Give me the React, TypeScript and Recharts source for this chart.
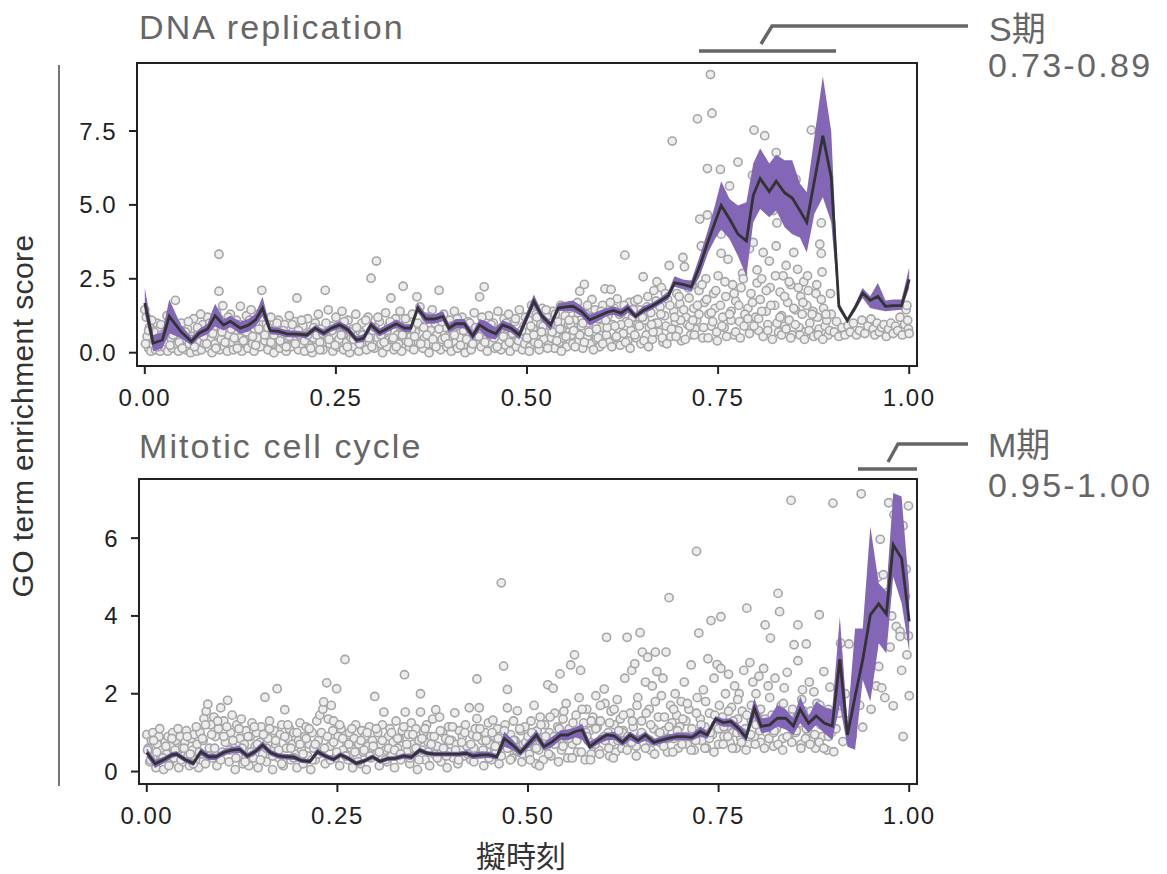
import React from "react";
import {
  ComposedChart,
  Scatter,
  Area,
  Line,
  XAxis,
  YAxis,
  CartesianGrid,
  ReferenceArea,
} from "recharts";

// ---- binned mean + interval, "DNA replication"
const dnaX = [0, 0.011, 0.023, 0.032, 0.047, 0.061, 0.071, 0.082, 0.092, 0.103, 0.112, 0.125, 0.136, 0.145, 0.154, 0.164, 0.175, 0.186, 0.199, 0.212, 0.223, 0.234, 0.244, 0.255, 0.266, 0.277, 0.286, 0.296, 0.307, 0.318, 0.329, 0.34, 0.348, 0.357, 0.368, 0.379, 0.39, 0.398, 0.407, 0.418, 0.429, 0.438, 0.448, 0.459, 0.468, 0.479, 0.49, 0.509, 0.52, 0.531, 0.541, 0.551, 0.56, 0.571, 0.582, 0.593, 0.604, 0.613, 0.623, 0.632, 0.642, 0.652, 0.663, 0.674, 0.685, 0.693, 0.704, 0.715, 0.726, 0.737, 0.746, 0.754, 0.765, 0.776, 0.787, 0.796, 0.805, 0.817, 0.826, 0.837, 0.847, 0.857, 0.866, 0.876, 0.887, 0.898, 0.908, 0.919, 0.929, 0.939, 0.949, 0.959, 0.969, 0.979, 0.99, 1.0];
const dnaMean = [1.68, 0.32, 0.43, 1.23, 0.72, 0.38, 0.66, 0.8, 1.25, 0.94, 1.06, 0.83, 0.94, 1.11, 1.51, 0.75, 0.72, 0.64, 0.63, 0.6, 0.83, 0.66, 0.83, 0.94, 0.77, 0.43, 0.49, 0.94, 0.68, 0.83, 0.98, 0.83, 0.83, 1.51, 1.14, 1.14, 1.23, 0.83, 0.98, 0.98, 0.57, 0.94, 0.77, 0.64, 0.94, 0.83, 0.6, 1.74, 1.23, 0.94, 1.51, 1.55, 1.57, 1.4, 1.11, 1.23, 1.36, 1.43, 1.34, 1.51, 1.23, 1.43, 1.57, 1.74, 1.93, 2.36, 2.31, 2.23, 2.93, 3.78, 4.41, 4.98, 4.52, 4.01, 3.78, 5.32, 5.89, 5.45, 5.8, 5.41, 5.23, 4.81, 4.41, 5.82, 7.34, 5.94, 1.57, 1.09, 1.51, 2.02, 1.77, 1.91, 1.57, 1.59, 1.59, 2.48];
const dnaLow = [1.34, 0.05, 0.15, 0.66, 0.5, 0.25, 0.5, 0.62, 0.89, 0.75, 0.86, 0.64, 0.72, 0.9, 1.23, 0.62, 0.6, 0.52, 0.52, 0.5, 0.72, 0.55, 0.72, 0.82, 0.64, 0.32, 0.36, 0.8, 0.55, 0.7, 0.84, 0.7, 0.7, 1.35, 0.98, 0.98, 1.06, 0.68, 0.82, 0.82, 0.42, 0.75, 0.5, 0.45, 0.78, 0.68, 0.45, 1.57, 1.06, 0.75, 1.4, 1.42, 1.4, 1.23, 0.91, 1.06, 1.23, 1.28, 1.2, 1.34, 1.14, 1.32, 1.45, 1.63, 1.8, 2.23, 2.15, 2.08, 2.59, 3.39, 3.85, 4.18, 3.85, 3.27, 2.59, 4.41, 4.86, 4.58, 4.81, 4.24, 4.01, 3.9, 3.39, 4.7, 5.26, 4.41, 1.45, 1.02, 1.4, 1.85, 1.51, 1.45, 1.4, 1.43, 1.45, 2.19];
const dnaHigh = [2.19, 0.6, 0.7, 1.8, 0.95, 0.52, 0.8, 0.98, 1.66, 1.13, 1.25, 1.05, 1.15, 1.32, 1.89, 0.88, 0.84, 0.76, 0.74, 0.7, 0.94, 0.78, 0.94, 1.06, 0.9, 0.55, 0.62, 1.08, 0.82, 0.96, 1.12, 0.96, 0.96, 1.68, 1.3, 1.3, 1.4, 0.98, 1.14, 1.14, 0.72, 1.14, 1.05, 0.84, 1.1, 0.98, 0.76, 1.97, 1.34, 1.06, 1.68, 1.72, 1.77, 1.59, 1.28, 1.4, 1.51, 1.57, 1.48, 1.66, 1.34, 1.57, 1.68, 1.85, 2.08, 2.59, 2.48, 2.43, 3.27, 4.18, 5.0, 5.8, 5.2, 4.98, 5.09, 6.4, 6.91, 6.4, 6.7, 6.51, 6.51, 5.72, 5.43, 7.3, 9.35, 7.48, 1.7, 1.17, 1.63, 2.19, 1.91, 2.36, 1.77, 1.8, 1.8, 2.88];

// ---- binned mean + interval, "Mitotic cell cycle"
const cycX = [0, 0.011, 0.022, 0.033, 0.039, 0.05, 0.061, 0.071, 0.081, 0.091, 0.101, 0.111, 0.122, 0.132, 0.142, 0.152, 0.162, 0.173, 0.183, 0.193, 0.203, 0.214, 0.224, 0.234, 0.245, 0.254, 0.264, 0.275, 0.286, 0.296, 0.306, 0.316, 0.326, 0.337, 0.347, 0.358, 0.368, 0.378, 0.389, 0.399, 0.409, 0.419, 0.428, 0.439, 0.449, 0.459, 0.469, 0.48, 0.49, 0.511, 0.521, 0.532, 0.543, 0.552, 0.562, 0.571, 0.581, 0.592, 0.603, 0.613, 0.624, 0.634, 0.644, 0.654, 0.665, 0.675, 0.685, 0.695, 0.705, 0.715, 0.726, 0.735, 0.746, 0.756, 0.766, 0.776, 0.786, 0.797, 0.806, 0.817, 0.827, 0.838, 0.848, 0.857, 0.868, 0.878, 0.889, 0.899, 0.909, 0.919, 0.929, 0.939, 0.949, 0.96, 0.97, 0.979, 0.99, 1.0];
const cycMean = [0.49, 0.2, 0.3, 0.43, 0.45, 0.31, 0.21, 0.51, 0.38, 0.38, 0.49, 0.55, 0.57, 0.4, 0.51, 0.68, 0.49, 0.4, 0.38, 0.37, 0.28, 0.26, 0.51, 0.4, 0.31, 0.43, 0.34, 0.21, 0.28, 0.38, 0.26, 0.33, 0.34, 0.4, 0.37, 0.55, 0.47, 0.45, 0.45, 0.45, 0.45, 0.47, 0.4, 0.43, 0.43, 0.38, 0.85, 0.68, 0.49, 0.94, 0.64, 0.77, 0.94, 0.94, 1.03, 1.07, 0.64, 0.8, 0.94, 0.92, 0.75, 0.94, 0.8, 0.94, 0.75, 0.81, 0.86, 0.9, 0.9, 0.88, 1.03, 0.94, 1.35, 1.26, 1.29, 1.11, 0.88, 1.63, 1.16, 1.2, 1.37, 1.37, 1.17, 1.6, 1.24, 1.43, 1.24, 1.17, 2.89, 0.94, 1.93, 2.87, 4.03, 4.31, 4.05, 5.83, 5.48, 3.86];
const cycLow = [0.38, 0.09, 0.22, 0.35, 0.38, 0.24, 0.14, 0.42, 0.3, 0.3, 0.41, 0.47, 0.48, 0.32, 0.43, 0.59, 0.41, 0.33, 0.31, 0.3, 0.22, 0.2, 0.43, 0.33, 0.25, 0.36, 0.28, 0.15, 0.22, 0.32, 0.2, 0.27, 0.28, 0.33, 0.3, 0.48, 0.41, 0.39, 0.39, 0.39, 0.39, 0.4, 0.32, 0.34, 0.35, 0.31, 0.64, 0.55, 0.4, 0.8, 0.55, 0.64, 0.82, 0.8, 0.88, 0.82, 0.56, 0.7, 0.8, 0.82, 0.66, 0.81, 0.7, 0.8, 0.66, 0.72, 0.77, 0.81, 0.81, 0.79, 0.9, 0.84, 1.24, 1.15, 1.15, 1.0, 0.77, 1.41, 0.99, 1.02, 1.16, 1.08, 0.94, 1.24, 1.0, 1.2, 0.98, 0.81, 1.71, 0.64, 0.56, 2.36, 1.8, 3.3, 3.04, 5.01, 4.33, 3.08];
const cycHigh = [0.6, 0.3, 0.38, 0.5, 0.52, 0.38, 0.28, 0.6, 0.46, 0.46, 0.57, 0.63, 0.66, 0.48, 0.59, 0.77, 0.57, 0.47, 0.45, 0.44, 0.34, 0.32, 0.59, 0.47, 0.38, 0.5, 0.4, 0.27, 0.34, 0.44, 0.32, 0.39, 0.4, 0.47, 0.44, 0.62, 0.53, 0.51, 0.51, 0.51, 0.51, 0.54, 0.48, 0.52, 0.51, 0.45, 1.02, 0.82, 0.58, 1.07, 0.74, 0.9, 1.06, 1.08, 1.14, 1.23, 0.77, 0.9, 1.0, 1.02, 0.84, 1.03, 0.9, 1.03, 0.84, 0.9, 0.95, 0.99, 0.99, 0.97, 1.16, 1.04, 1.43, 1.36, 1.37, 1.22, 1.03, 1.89, 1.37, 1.4, 1.71, 1.6, 1.37, 1.93, 1.42, 1.8, 1.65, 1.59, 3.98, 1.24, 3.68, 3.68, 6.3, 4.84, 4.63, 7.16, 7.07, 4.67];

// ---- per-cell scores (pseudotime, score)
const dnaCells: [number, number][] = [
  [0.0, 1.45], [0.002, 1.2], [0.003, 0.55], [0.005, 0.15], [0.006, 0.85], [0.008, 0.05], [0.01, 0.3], [0.012, 0.7], [0.014, 0.1], [0.016, 1.0],
  [0.018, 0.45], [0.02, 0.05], [0.022, 0.6], [0.024, 0.2], [0.026, 0.9], [0.028, 0.35], [0.03, 0.05], [0.032, 1.1], [0.034, 0.5], [0.036, 0.15],
  [0.038, 0.75], [0.04, 1.77], [0.042, 0.3], [0.044, 0.05], [0.046, 0.6], [0.048, 1.0], [0.05, 0.2], [0.052, 0.45], [0.054, 0.1], [0.056, 0.8],
  [0.058, 0.3], [0.06, 0.0], [0.062, 0.55], [0.064, 1.15], [0.066, 0.25], [0.068, 0.05], [0.07, 0.7], [0.072, 0.4], [0.074, 0.1], [0.076, 0.95],
  [0.078, 0.3], [0.08, 0.6], [0.082, 1.2], [0.084, 0.15], [0.086, 0.45], [0.088, 0.0], [0.09, 0.85], [0.092, 0.3], [0.094, 1.35], [0.096, 0.6],
  [0.097, 2.08], [0.097, 3.33], [0.098, 0.1], [0.1, 0.45], [0.102, 1.59], [0.104, 0.2], [0.106, 0.9], [0.108, 0.05], [0.11, 0.6], [0.112, 1.3],
  [0.114, 0.35], [0.116, 0.1], [0.118, 0.75], [0.12, 1.1], [0.122, 0.25], [0.124, 0.5], [0.125, 1.57], [0.127, 0.05], [0.129, 0.85], [0.131, 0.35],
  [0.133, 1.25], [0.135, 0.15], [0.137, 0.6], [0.139, 1.45], [0.141, 0.3], [0.143, 0.05], [0.145, 0.95], [0.147, 0.5], [0.149, 1.3], [0.151, 0.2],
  [0.153, 2.11], [0.155, 0.7], [0.157, 0.4], [0.159, 1.0], [0.161, 0.1], [0.163, 0.55], [0.165, 1.2], [0.167, 0.3], [0.169, 0.0], [0.171, 0.8],
  [0.173, 0.45], [0.175, 1.1], [0.177, 0.15], [0.179, 0.6], [0.181, 0.3], [0.183, 0.95], [0.185, 0.05], [0.187, 0.5], [0.189, 1.25], [0.191, 0.2],
  [0.193, 0.7], [0.195, 0.4], [0.197, 1.05], [0.199, 1.85], [0.201, 0.1], [0.203, 0.6], [0.205, 0.3], [0.207, 0.9], [0.209, 0.05], [0.211, 0.45],
  [0.213, 1.15], [0.215, 0.25], [0.217, 0.7], [0.219, 0.0], [0.221, 0.5], [0.223, 1.0], [0.225, 0.2], [0.227, 1.3], [0.229, 0.35], [0.231, 0.8],
  [0.233, 0.1], [0.236, 2.11], [0.238, 0.55], [0.24, 1.45], [0.242, 0.3], [0.244, 0.9], [0.246, 0.05], [0.248, 0.6], [0.25, 1.2], [0.252, 0.2],
  [0.254, 0.45], [0.256, 0.85], [0.258, 1.4], [0.26, 0.1], [0.262, 0.65], [0.264, 0.35], [0.266, 1.1], [0.268, 0.0], [0.27, 0.5], [0.272, 0.8],
  [0.274, 0.2], [0.276, 1.3], [0.278, 0.4], [0.28, 0.05], [0.282, 0.7], [0.284, 1.0], [0.286, 0.25], [0.288, 0.55], [0.29, 0.1], [0.292, 1.2],
  [0.294, 0.35], [0.296, 2.52], [0.298, 0.75], [0.3, 0.15], [0.303, 3.1], [0.305, 0.5], [0.307, 1.05], [0.309, 0.3], [0.311, 0.0], [0.313, 0.65],
  [0.315, 1.35], [0.317, 0.2], [0.319, 0.9], [0.322, 1.85], [0.324, 0.45], [0.326, 0.1], [0.328, 1.15], [0.33, 0.6], [0.332, 0.3], [0.334, 1.4],
  [0.336, 0.05], [0.338, 2.25], [0.34, 0.8], [0.342, 0.4], [0.344, 1.0], [0.346, 0.2], [0.348, 0.55], [0.35, 1.3], [0.352, 0.1], [0.354, 0.7],
  [0.356, 1.89], [0.358, 0.35], [0.36, 1.55], [0.362, 0.9], [0.364, 0.15], [0.366, 0.5], [0.368, 1.2], [0.37, 0.3], [0.372, 0.0], [0.374, 0.75],
  [0.376, 1.45], [0.378, 0.25], [0.38, 1.0], [0.382, 0.6], [0.385, 2.11], [0.387, 0.1], [0.389, 0.45], [0.391, 1.3], [0.393, 0.85], [0.395, 0.2],
  [0.397, 0.55], [0.399, 1.1], [0.401, 0.05], [0.403, 0.7], [0.405, 1.4], [0.407, 0.35], [0.409, 0.15], [0.411, 0.9], [0.413, 0.5], [0.415, 1.2],
  [0.417, 0.25], [0.419, 0.0], [0.421, 0.65], [0.423, 1.05], [0.425, 0.4], [0.427, 0.1], [0.429, 0.8], [0.431, 1.35], [0.433, 0.3], [0.435, 0.55],
  [0.438, 1.89], [0.44, 0.2], [0.442, 0.95], [0.444, 2.23], [0.446, 0.45], [0.448, 0.05], [0.45, 1.25], [0.452, 0.6], [0.454, 0.3], [0.456, 1.0],
  [0.458, 0.15], [0.46, 0.7], [0.462, 1.4], [0.464, 0.4], [0.466, 0.1], [0.468, 0.85], [0.47, 1.15], [0.472, 0.25], [0.474, 0.55], [0.476, 1.3],
  [0.478, 0.05], [0.48, 0.75], [0.482, 0.35], [0.484, 1.05], [0.486, 0.2], [0.488, 0.6], [0.49, 1.45], [0.492, 0.45], [0.494, 0.1], [0.496, 0.9],
  [0.498, 1.2],
  [0.001, 0.3], [0.005, 0.75], [0.009, 1.1], [0.013, 0.4], [0.017, 0.2], [0.021, 0.95], [0.025, 0.55], [0.029, 1.25], [0.033, 0.25], [0.037, 0.6],
  [0.041, 0.95], [0.045, 0.35], [0.049, 0.15], [0.053, 0.7], [0.057, 1.05], [0.061, 0.45], [0.065, 0.2], [0.069, 0.85], [0.073, 1.3], [0.077, 0.55],
  [0.081, 0.3], [0.085, 1.0], [0.089, 0.65], [0.093, 0.15], [0.097, 1.15], [0.101, 0.7], [0.105, 0.35], [0.109, 1.2], [0.113, 0.8], [0.117, 0.5],
  [0.121, 0.15], [0.125, 0.95], [0.129, 0.4], [0.133, 0.7], [0.137, 1.1], [0.141, 0.55], [0.145, 0.25], [0.149, 0.8], [0.153, 1.2], [0.157, 0.6],
  [0.161, 0.85], [0.165, 0.35], [0.169, 0.6], [0.173, 1.0], [0.177, 0.4], [0.181, 0.75], [0.185, 0.2], [0.189, 0.55], [0.193, 0.95], [0.197, 0.3],
  [0.201, 0.75], [0.205, 1.1], [0.209, 0.4], [0.213, 0.6], [0.217, 0.15], [0.221, 0.85], [0.225, 0.6], [0.229, 0.1], [0.233, 0.65], [0.237, 1.0],
  [0.241, 0.45], [0.245, 0.75], [0.249, 0.25], [0.253, 0.9], [0.257, 0.6], [0.261, 1.05], [0.265, 0.2], [0.269, 0.7], [0.273, 0.45], [0.277, 0.85],
  [0.281, 0.3], [0.285, 0.6], [0.289, 1.1], [0.293, 0.5], [0.297, 0.2], [0.301, 0.85], [0.305, 1.2], [0.309, 0.6], [0.313, 0.35], [0.317, 0.75],
  [0.321, 1.05], [0.325, 0.5], [0.329, 0.2], [0.333, 0.9], [0.337, 0.6], [0.341, 1.15], [0.345, 0.35], [0.349, 0.8], [0.353, 0.55], [0.357, 1.0],
  [0.361, 0.3], [0.365, 0.85], [0.369, 0.6], [0.373, 1.2], [0.377, 0.45], [0.381, 0.2], [0.385, 0.8], [0.389, 1.05], [0.393, 0.5], [0.397, 0.3],
  [0.401, 0.9], [0.405, 0.6], [0.409, 1.15], [0.413, 0.25], [0.417, 0.75], [0.421, 0.45], [0.425, 1.0], [0.429, 0.3], [0.433, 0.85], [0.437, 0.55],
  [0.441, 1.2], [0.445, 0.35], [0.449, 0.7], [0.453, 0.95], [0.457, 0.5], [0.461, 0.2], [0.465, 0.8], [0.469, 0.55], [0.473, 1.0], [0.477, 0.35],
  [0.481, 0.65], [0.485, 1.15], [0.489, 0.4], [0.493, 0.75], [0.497, 0.3],
  [0.5, 0.5], [0.502, 1.1], [0.504, 0.2], [0.506, 1.6], [0.508, 0.8], [0.51, 0.35], [0.512, 1.3], [0.514, 0.6], [0.516, 0.1], [0.518, 0.95],
  [0.52, 1.5], [0.522, 0.45], [0.524, 0.75], [0.526, 1.2], [0.528, 0.25], [0.53, 0.9], [0.532, 0.5], [0.534, 1.4], [0.536, 0.15], [0.538, 0.65],
  [0.54, 1.05], [0.542, 0.35], [0.544, 1.6], [0.546, 0.8], [0.548, 0.5], [0.55, 1.25], [0.552, 0.2], [0.554, 0.95], [0.556, 1.5], [0.558, 0.6],
  [0.56, 0.3], [0.562, 1.1], [0.564, 0.75], [0.566, 1.7], [0.568, 0.4], [0.569, 2.08], [0.571, 0.9], [0.573, 0.15], [0.575, 2.31], [0.577, 1.3],
  [0.579, 0.55], [0.581, 1.0], [0.583, 0.3], [0.585, 1.8], [0.587, 0.7], [0.589, 1.45], [0.591, 0.45], [0.593, 1.15], [0.595, 0.2], [0.597, 0.85],
  [0.599, 1.6], [0.602, 2.16], [0.604, 0.6], [0.606, 1.25], [0.608, 0.35], [0.61, 2.14], [0.612, 0.95], [0.614, 1.5], [0.616, 0.5], [0.618, 1.82],
  [0.62, 0.8], [0.622, 0.25], [0.624, 1.35], [0.626, 0.65], [0.628, 3.3], [0.63, 1.05], [0.632, 0.4], [0.634, 1.7], [0.636, 0.75], [0.638, 1.2],
  [0.641, 1.74], [0.643, 0.5], [0.645, 0.95], [0.647, 1.45], [0.649, 0.3], [0.652, 2.57], [0.654, 1.1], [0.656, 0.6], [0.658, 1.9], [0.66, 0.85],
  [0.662, 1.35], [0.664, 0.45], [0.666, 2.1], [0.668, 1.0], [0.67, 2.4], [0.672, 0.7], [0.674, 1.55], [0.676, 2.2], [0.678, 0.35], [0.68, 1.25],
  [0.682, 0.9], [0.684, 1.8], [0.686, 2.95], [0.688, 0.55], [0.69, 7.16], [0.692, 1.4], [0.694, 1.05], [0.696, 2.0], [0.698, 0.75], [0.7, 1.65],
  [0.702, 0.4], [0.704, 3.22], [0.706, 2.91], [0.708, 1.2], [0.71, 0.95], [0.712, 1.85], [0.714, 0.6], [0.716, 2.3], [0.718, 1.5], [0.72, 0.8],
  [0.722, 1.1], [0.723, 7.91], [0.725, 2.1], [0.726, 4.52], [0.728, 3.61], [0.73, 0.5], [0.732, 1.7], [0.734, 2.5], [0.736, 6.23], [0.736, 4.66],
  [0.738, 1.3], [0.74, 9.41], [0.741, 0.9], [0.742, 8.1], [0.744, 2.0], [0.746, 1.5], [0.748, 0.7], [0.75, 2.6], [0.753, 6.2], [0.754, 4.01],
  [0.754, 3.36], [0.756, 1.2], [0.758, 0.85], [0.76, 1.9], [0.763, 3.16], [0.765, 5.64], [0.767, 1.4], [0.769, 2.3], [0.771, 0.6], [0.773, 1.75],
  [0.776, 6.45], [0.778, 1.05], [0.78, 2.2], [0.782, 2.68], [0.784, 0.9], [0.787, 4.66], [0.789, 1.5], [0.791, 3.52], [0.793, 2.0], [0.795, 6.0],
  [0.796, 3.73], [0.797, 7.53], [0.799, 1.2], [0.801, 2.36], [0.803, 0.75], [0.805, 1.8], [0.807, 2.5], [0.809, 3.39], [0.811, 7.34], [0.813, 1.4],
  [0.815, 0.95], [0.817, 3.1], [0.818, 2.2], [0.82, 5.15], [0.822, 4.81], [0.824, 1.6], [0.826, 6.77], [0.826, 3.61], [0.827, 4.39], [0.829, 0.7],
  [0.831, 2.05], [0.833, 1.25], [0.835, 2.6], [0.837, 0.9], [0.839, 6.11], [0.839, 2.95], [0.841, 1.7], [0.843, 1.1], [0.845, 2.3], [0.847, 0.6],
  [0.849, 3.39], [0.851, 1.45], [0.852, 5.86], [0.853, 4.32], [0.854, 2.82], [0.856, 0.85], [0.858, 1.9], [0.86, 1.3], [0.862, 2.4], [0.864, 0.7],
  [0.866, 1.6], [0.868, 2.1], [0.87, 1.0], [0.872, 7.53], [0.874, 1.4], [0.876, 0.6], [0.878, 2.0], [0.88, 1.2], [0.882, 0.8], [0.883, 5.86],
  [0.883, 3.67], [0.885, 4.39], [0.885, 3.36], [0.886, 2.73], [0.888, 1.5], [0.89, 0.9], [0.892, 1.1], [0.894, 0.6], [0.896, 0.75], [0.898, 1.3],
  [0.503, 0.05], [0.509, 0.6], [0.515, 0.3], [0.521, 0.9], [0.527, 0.15], [0.533, 0.7], [0.539, 0.4], [0.545, 0.05], [0.551, 0.55], [0.557, 0.95],
  [0.563, 0.2], [0.569, 0.6], [0.575, 0.35], [0.581, 0.7], [0.587, 0.1], [0.593, 0.5], [0.599, 0.3], [0.605, 0.85], [0.611, 0.2], [0.617, 0.55],
  [0.623, 0.95], [0.629, 0.35], [0.635, 0.15], [0.641, 0.6], [0.647, 0.9], [0.653, 0.4], [0.659, 0.2], [0.665, 0.7], [0.671, 1.0], [0.677, 0.5],
  [0.683, 0.3], [0.689, 0.8], [0.695, 0.55], [0.701, 1.1], [0.707, 0.45], [0.713, 0.9], [0.719, 0.6], [0.725, 1.3], [0.731, 0.85], [0.737, 0.5],
  [0.743, 1.05], [0.749, 0.4], [0.755, 0.9], [0.761, 0.55], [0.767, 1.1], [0.773, 0.7], [0.779, 0.5], [0.785, 1.3], [0.791, 0.65], [0.797, 0.9],
  [0.803, 1.15], [0.809, 0.55], [0.815, 0.75], [0.821, 0.45], [0.827, 1.0], [0.833, 0.6], [0.839, 0.8], [0.845, 0.5], [0.851, 0.95], [0.857, 0.6],
  [0.863, 0.45], [0.869, 0.75], [0.875, 0.55], [0.881, 0.6], [0.887, 0.45],
  [0.505, 0.9], [0.513, 1.2], [0.519, 0.7], [0.525, 1.45], [0.531, 1.0], [0.537, 1.3], [0.543, 0.8], [0.549, 1.55], [0.555, 1.1], [0.561, 0.75],
  [0.567, 1.35], [0.573, 1.0], [0.579, 1.6], [0.585, 1.2], [0.591, 0.8], [0.597, 1.4], [0.603, 1.1], [0.609, 1.7], [0.615, 0.9], [0.621, 1.3],
  [0.627, 1.6], [0.633, 1.0], [0.639, 1.45], [0.645, 1.8], [0.651, 1.2], [0.657, 1.55], [0.663, 0.95], [0.669, 1.75], [0.675, 1.3], [0.681, 2.0],
  [0.687, 1.6], [0.693, 1.2], [0.699, 1.9], [0.705, 1.45], [0.711, 2.2], [0.717, 1.1], [0.723, 1.6], [0.729, 2.3], [0.735, 1.8], [0.741, 1.35],
  [0.747, 2.1], [0.753, 1.6], [0.759, 2.4], [0.765, 1.3], [0.771, 2.0], [0.777, 1.6], [0.783, 2.5], [0.789, 1.15], [0.795, 1.7], [0.801, 2.8],
  [0.807, 1.4], [0.813, 2.1], [0.819, 1.6], [0.825, 2.6], [0.831, 1.2], [0.837, 1.9], [0.843, 2.4], [0.849, 1.5], [0.855, 2.2], [0.861, 1.7],
  [0.867, 2.6], [0.873, 1.3], [0.879, 2.3], [0.885, 1.8], [0.891, 1.3], [0.897, 2.0],
  [0.902, 0.7], [0.905, 1.05], [0.908, 0.55], [0.912, 0.85], [0.916, 0.6], [0.92, 0.91], [0.923, 0.7], [0.927, 1.0], [0.931, 0.6], [0.935, 0.75],
  [0.938, 1.1], [0.942, 0.65], [0.946, 0.9], [0.95, 1.14], [0.953, 0.8], [0.955, 0.6], [0.958, 1.0], [0.961, 0.7], [0.964, 0.85], [0.967, 0.95],
  [0.97, 0.55], [0.973, 0.8], [0.976, 1.0], [0.979, 0.65], [0.982, 0.9], [0.985, 0.75], [0.988, 1.2], [0.991, 0.6], [0.994, 0.95], [0.996, 1.45],
  [0.998, 1.1], [0.999, 0.8], [1.0, 0.65], [0.997, 1.6],
];

const cycCells: [number, number][] = [
  [0.0, 0.95], [0.002, 0.6], [0.004, 0.25], [0.006, 0.8], [0.008, 1.0], [0.01, 0.4], [0.012, 0.1], [0.014, 0.7], [0.016, 0.9], [0.018, 0.3],
  [0.02, 0.55], [0.022, 0.05], [0.024, 0.75], [0.026, 0.45], [0.028, 0.9], [0.03, 0.2], [0.032, 0.65], [0.034, 1.0], [0.036, 0.35], [0.038, 0.8],
  [0.04, 0.5], [0.042, 0.1], [0.044, 0.9], [0.046, 0.6], [0.048, 0.25], [0.05, 0.75], [0.052, 1.05], [0.054, 0.4], [0.056, 0.15], [0.058, 0.85],
  [0.06, 0.55], [0.062, 0.95], [0.064, 0.3], [0.066, 0.7], [0.068, 0.1], [0.07, 1.0], [0.072, 0.45], [0.074, 0.8], [0.075, 1.36], [0.077, 0.2],
  [0.078, 1.55], [0.08, 1.73], [0.082, 0.6], [0.084, 1.2], [0.086, 0.35], [0.088, 1.4], [0.09, 0.9], [0.092, 0.15], [0.094, 1.1], [0.097, 1.64],
  [0.099, 0.5], [0.101, 1.3], [0.103, 0.75], [0.106, 1.83], [0.108, 0.25], [0.11, 1.0], [0.112, 1.45], [0.114, 0.6], [0.116, 0.05], [0.118, 1.2],
  [0.12, 0.4], [0.122, 0.85], [0.124, 1.35], [0.126, 0.2], [0.128, 0.7], [0.13, 1.05], [0.132, 0.5], [0.134, 0.15], [0.136, 0.9], [0.138, 1.25],
  [0.14, 0.35], [0.142, 0.65], [0.144, 1.0], [0.146, 0.1], [0.148, 0.75], [0.15, 1.15], [0.152, 0.45], [0.155, 1.91], [0.157, 0.25], [0.159, 0.85],
  [0.161, 1.3], [0.163, 0.55], [0.165, 0.05], [0.167, 1.05], [0.169, 0.7], [0.171, 2.13], [0.173, 0.35], [0.175, 0.95], [0.177, 1.2], [0.179, 0.15],
  [0.181, 1.59], [0.183, 0.6], [0.185, 0.85], [0.187, 1.1], [0.189, 0.3], [0.191, 0.7], [0.193, 1.0], [0.195, 0.45], [0.197, 0.1], [0.199, 0.8],
  [0.201, 1.25], [0.203, 0.55], [0.205, 0.2], [0.207, 0.9], [0.209, 1.15], [0.211, 0.4], [0.213, 0.7], [0.215, 0.05], [0.217, 1.0], [0.219, 0.6],
  [0.221, 0.3], [0.223, 1.3], [0.225, 0.8], [0.227, 1.45], [0.229, 0.5], [0.231, 1.6], [0.232, 1.79], [0.234, 0.2], [0.236, 2.28], [0.238, 1.35],
  [0.24, 0.65], [0.242, 1.7], [0.244, 1.05], [0.245, 1.3], [0.247, 0.35], [0.249, 2.13], [0.251, 0.9], [0.253, 0.15], [0.255, 1.1], [0.257, 0.55],
  [0.26, 2.88], [0.262, 0.75], [0.264, 0.3], [0.266, 1.0], [0.268, 0.6], [0.27, 0.1], [0.272, 0.85], [0.274, 1.2], [0.276, 0.4], [0.278, 0.7],
  [0.28, 0.2], [0.282, 1.05], [0.284, 0.5], [0.286, 0.9], [0.288, 0.05], [0.29, 0.65], [0.292, 1.15], [0.294, 0.35], [0.296, 0.8], [0.299, 1.93],
  [0.301, 0.45], [0.303, 1.0], [0.305, 0.15], [0.307, 0.7], [0.309, 1.2], [0.311, 1.53], [0.313, 0.55], [0.315, 0.25], [0.317, 0.9], [0.319, 1.1],
  [0.321, 0.4], [0.323, 0.75], [0.325, 0.1], [0.327, 1.3], [0.329, 0.6], [0.331, 0.85], [0.333, 0.3], [0.335, 1.05], [0.338, 2.49], [0.339, 1.53],
  [0.341, 0.5], [0.343, 0.95], [0.345, 0.2], [0.347, 1.25], [0.349, 0.7], [0.351, 0.4], [0.353, 1.1], [0.355, 0.05], [0.357, 0.8], [0.359, 2.0],
  [0.359, 1.53], [0.361, 0.55], [0.363, 1.0], [0.365, 0.3], [0.367, 1.2], [0.369, 0.75], [0.371, 0.15], [0.373, 0.9], [0.375, 1.35], [0.377, 0.45],
  [0.379, 1.59], [0.381, 0.65], [0.384, 1.4], [0.386, 0.25], [0.388, 1.0], [0.39, 0.6], [0.392, 0.85], [0.394, 0.1], [0.396, 1.15], [0.398, 0.5],
  [0.4, 0.8], [0.402, 0.35], [0.404, 1.51], [0.406, 0.7], [0.408, 0.2], [0.41, 1.05], [0.412, 0.55], [0.414, 0.9], [0.416, 0.4], [0.418, 1.2],
  [0.42, 0.65], [0.423, 1.64], [0.425, 0.3], [0.427, 0.95], [0.429, 0.6], [0.431, 1.1], [0.433, 2.38], [0.433, 1.36], [0.436, 1.64], [0.438, 0.45],
  [0.44, 0.8], [0.442, 0.15], [0.444, 1.0], [0.446, 0.55], [0.448, 1.25], [0.45, 0.7], [0.452, 0.3], [0.454, 1.32], [0.456, 0.9], [0.458, 0.5],
  [0.46, 1.1], [0.462, 0.2], [0.465, 4.85], [0.466, 0.75], [0.468, 2.71], [0.47, 1.2], [0.473, 2.11], [0.473, 1.64], [0.475, 0.6], [0.477, 0.95],
  [0.479, 0.35], [0.481, 1.3], [0.483, 0.8], [0.486, 1.56], [0.488, 0.5], [0.49, 1.05], [0.492, 0.25], [0.494, 0.7], [0.496, 1.15], [0.498, 0.4],
  [0.001, 0.55], [0.005, 0.3], [0.009, 0.8], [0.013, 0.5], [0.017, 1.1], [0.021, 0.35], [0.025, 0.65], [0.029, 0.15], [0.033, 0.85], [0.037, 0.55],
  [0.041, 1.1], [0.045, 0.3], [0.049, 0.6], [0.053, 0.9], [0.057, 0.45], [0.061, 0.2], [0.065, 1.15], [0.069, 0.5], [0.073, 0.85], [0.077, 1.2],
  [0.081, 0.4], [0.085, 0.95], [0.089, 0.6], [0.093, 1.3], [0.097, 0.3], [0.101, 0.9], [0.105, 1.15], [0.109, 0.55], [0.113, 0.8], [0.117, 0.35],
  [0.121, 1.1], [0.125, 0.6], [0.129, 0.25], [0.133, 0.9], [0.137, 0.5], [0.141, 1.15], [0.145, 0.7], [0.149, 0.3], [0.153, 0.95], [0.157, 0.6],
  [0.161, 1.1], [0.165, 0.4], [0.169, 0.8], [0.173, 0.55], [0.177, 0.2], [0.181, 0.9], [0.185, 1.2], [0.189, 0.6], [0.193, 0.35], [0.197, 1.0],
  [0.201, 0.7], [0.205, 0.45], [0.209, 0.85], [0.213, 1.1], [0.217, 0.3], [0.221, 0.7], [0.225, 0.45], [0.229, 1.0], [0.233, 0.6], [0.237, 0.9],
  [0.241, 0.3], [0.245, 0.75], [0.249, 0.5], [0.253, 1.2], [0.257, 0.85], [0.261, 0.4], [0.265, 0.7], [0.269, 1.1], [0.273, 0.5], [0.277, 0.25],
  [0.281, 0.8], [0.285, 0.55], [0.289, 1.0], [0.293, 0.4], [0.297, 0.65], [0.301, 1.1], [0.305, 0.5], [0.309, 0.8], [0.313, 0.3], [0.317, 0.6],
  [0.321, 1.0], [0.325, 0.55], [0.329, 0.85], [0.333, 0.45], [0.337, 1.15], [0.341, 0.7], [0.345, 0.35], [0.349, 0.95], [0.353, 0.6], [0.357, 0.3],
  [0.361, 0.85], [0.365, 1.1], [0.369, 0.5], [0.373, 0.7], [0.377, 0.9], [0.381, 0.35], [0.385, 1.05], [0.389, 0.6], [0.393, 0.4], [0.397, 0.8],
  [0.401, 1.15], [0.405, 0.55], [0.409, 0.3], [0.413, 0.75], [0.417, 1.0], [0.421, 0.45], [0.425, 0.7], [0.429, 0.25], [0.433, 0.9], [0.437, 1.1],
  [0.441, 0.55], [0.445, 0.8], [0.449, 0.35], [0.453, 1.0], [0.457, 0.65], [0.461, 0.85], [0.465, 0.4], [0.469, 1.05], [0.473, 0.6], [0.477, 0.3],
  [0.481, 0.8], [0.485, 0.55], [0.489, 1.1], [0.493, 0.45], [0.497, 0.75],
  [0.5, 0.9], [0.502, 0.45], [0.504, 1.3], [0.506, 0.7], [0.508, 1.7], [0.51, 0.2], [0.512, 1.05], [0.514, 0.55], [0.516, 1.4], [0.518, 0.85],
  [0.52, 0.3], [0.522, 1.2], [0.524, 0.65], [0.526, 2.23], [0.528, 1.0], [0.53, 0.4], [0.533, 2.14], [0.535, 1.5], [0.537, 0.75], [0.539, 1.15],
  [0.542, 2.51], [0.544, 0.55], [0.546, 1.35], [0.548, 0.9], [0.55, 1.75], [0.552, 0.35], [0.554, 1.1], [0.556, 2.74], [0.558, 0.7], [0.561, 3.0],
  [0.563, 1.45], [0.565, 0.5], [0.567, 1.9], [0.569, 2.6], [0.571, 0.95], [0.573, 1.25], [0.575, 0.3], [0.577, 1.6], [0.579, 0.8], [0.581, 1.05],
  [0.583, 0.45], [0.585, 1.4], [0.587, 0.7], [0.589, 1.95], [0.591, 1.15], [0.593, 0.55], [0.595, 1.3], [0.597, 0.85], [0.6, 2.12], [0.601, 1.75],
  [0.603, 3.45], [0.605, 1.0], [0.607, 0.4], [0.609, 1.55], [0.611, 0.75], [0.613, 1.2], [0.615, 0.5], [0.617, 1.85], [0.619, 0.95], [0.621, 1.35],
  [0.623, 0.6], [0.625, 1.05], [0.627, 2.4], [0.63, 3.45], [0.632, 0.8], [0.634, 1.5], [0.636, 2.6], [0.638, 1.15], [0.64, 2.77], [0.642, 0.65],
  [0.644, 1.9], [0.647, 3.57], [0.649, 1.3], [0.65, 3.07], [0.652, 0.9], [0.654, 2.3], [0.657, 2.94], [0.659, 1.6], [0.661, 0.55], [0.663, 2.2],
  [0.665, 1.1], [0.667, 3.07], [0.669, 2.57], [0.671, 1.4], [0.673, 0.75], [0.675, 1.95], [0.677, 2.4], [0.679, 1.05], [0.681, 3.07], [0.683, 0.5],
  [0.685, 4.47], [0.687, 1.7], [0.689, 1.25], [0.691, 0.85], [0.693, 2.0], [0.695, 1.45], [0.697, 0.6], [0.699, 1.15], [0.701, 1.8], [0.703, 0.9],
  [0.705, 2.3], [0.707, 1.3], [0.709, 0.7], [0.711, 1.6], [0.714, 2.74], [0.716, 1.0], [0.718, 0.55], [0.721, 5.66], [0.722, 1.9], [0.724, 3.56],
  [0.726, 1.35], [0.728, 0.8], [0.73, 2.1], [0.732, 1.15], [0.734, 0.6], [0.736, 2.9], [0.738, 1.5], [0.74, 3.88], [0.742, 0.95], [0.744, 2.4],
  [0.746, 1.2], [0.748, 2.75], [0.75, 0.7], [0.753, 3.98], [0.753, 2.65], [0.755, 1.4], [0.757, 0.9], [0.759, 2.0], [0.761, 1.15], [0.763, 2.5],
  [0.765, 0.75], [0.767, 1.65], [0.769, 1.0], [0.771, 2.2], [0.773, 0.6], [0.775, 1.35], [0.777, 2.0], [0.779, 0.85], [0.781, 1.55], [0.783, 2.6],
  [0.785, 1.1], [0.787, 4.2], [0.789, 0.7], [0.791, 2.8], [0.793, 1.3], [0.795, 2.3], [0.797, 0.9], [0.799, 2.0], [0.801, 1.5], [0.803, 2.45],
  [0.805, 0.75], [0.807, 1.2], [0.809, 2.65], [0.811, 3.77], [0.813, 1.0], [0.815, 2.2], [0.818, 3.43], [0.82, 1.45], [0.822, 0.65], [0.824, 2.4],
  [0.826, 1.1], [0.828, 4.58], [0.83, 4.11], [0.832, 1.7], [0.834, 0.85], [0.836, 2.15], [0.838, 1.3], [0.84, 2.55], [0.842, 0.9], [0.845, 6.97],
  [0.847, 1.5], [0.849, 3.26], [0.851, 1.0], [0.854, 3.77], [0.854, 2.85], [0.856, 1.25], [0.858, 0.7], [0.86, 2.1], [0.862, 1.55], [0.865, 3.28],
  [0.867, 1.05], [0.869, 2.3], [0.871, 0.8], [0.873, 1.4], [0.875, 2.05], [0.877, 0.6], [0.879, 1.75], [0.882, 4.03], [0.884, 1.2], [0.886, 0.9],
  [0.888, 2.57], [0.89, 1.35], [0.892, 0.55], [0.894, 1.6], [0.896, 2.17], [0.898, 1.0],
  [0.503, 0.3], [0.509, 0.6], [0.515, 0.15], [0.521, 0.75], [0.527, 0.45], [0.534, 0.9], [0.54, 0.25], [0.546, 0.65], [0.552, 0.95], [0.558, 0.35],
  [0.564, 0.8], [0.57, 0.5], [0.576, 1.0], [0.582, 0.3], [0.588, 0.7], [0.594, 0.45], [0.6, 0.9], [0.606, 0.6], [0.612, 0.35], [0.618, 0.8],
  [0.624, 1.0], [0.63, 0.55], [0.636, 0.75], [0.642, 0.4], [0.648, 0.95], [0.654, 0.6], [0.66, 0.8], [0.666, 0.45], [0.672, 1.0], [0.678, 0.65],
  [0.684, 0.85], [0.69, 0.5], [0.696, 1.05], [0.702, 0.7], [0.708, 0.9], [0.714, 0.55], [0.72, 0.8], [0.726, 1.0], [0.732, 0.6], [0.738, 0.85],
  [0.744, 0.5], [0.75, 1.1], [0.756, 0.7], [0.762, 0.9], [0.768, 0.6], [0.774, 1.0], [0.78, 0.75], [0.786, 0.55], [0.792, 0.95], [0.798, 0.7],
  [0.804, 1.05], [0.81, 0.6], [0.816, 0.85], [0.822, 1.0], [0.828, 0.7], [0.834, 0.55], [0.84, 0.9], [0.846, 0.75], [0.852, 1.05], [0.858, 0.6],
  [0.864, 0.85], [0.87, 0.7], [0.876, 0.95], [0.882, 0.75], [0.888, 0.6], [0.894, 0.9],
  [0.505, 1.0], [0.511, 0.6], [0.517, 1.2], [0.523, 0.9], [0.529, 1.4], [0.535, 0.7], [0.541, 1.1], [0.547, 1.55], [0.553, 0.85], [0.559, 1.25],
  [0.565, 1.0], [0.571, 1.6], [0.577, 0.9], [0.583, 1.3], [0.589, 1.1], [0.595, 1.7], [0.601, 0.8], [0.607, 1.25], [0.613, 1.6], [0.619, 1.05],
  [0.625, 1.45], [0.631, 0.9], [0.637, 1.3], [0.643, 1.7], [0.649, 1.0], [0.655, 1.5], [0.661, 1.2], [0.667, 1.8], [0.673, 1.0], [0.679, 1.4],
  [0.685, 1.15], [0.691, 1.6], [0.697, 0.9], [0.703, 1.35], [0.709, 1.75], [0.715, 1.1], [0.721, 1.5], [0.727, 1.2], [0.733, 1.8], [0.739, 1.0],
  [0.745, 1.45], [0.751, 1.7], [0.757, 1.15], [0.763, 1.55], [0.769, 1.3], [0.775, 1.85], [0.781, 1.0], [0.787, 1.45], [0.793, 1.7], [0.799, 1.2],
  [0.805, 1.6], [0.811, 1.35], [0.817, 1.9], [0.823, 1.05], [0.829, 1.5], [0.835, 1.75], [0.841, 1.2], [0.847, 1.6], [0.853, 1.4], [0.859, 1.85],
  [0.865, 1.1], [0.871, 1.55], [0.877, 1.3], [0.883, 1.7], [0.889, 1.15], [0.895, 1.5],
  [0.9, 6.9], [0.901, 0.51], [0.904, 1.1], [0.908, 1.5], [0.91, 3.3], [0.913, 0.77], [0.916, 2.0], [0.92, 1.3], [0.921, 3.28], [0.925, 0.9],
  [0.93, 2.4], [0.935, 1.7], [0.937, 7.14], [0.939, 1.14], [0.942, 2.8], [0.946, 3.5], [0.95, 1.6], [0.954, 4.3], [0.957, 2.2], [0.959, 5.0],
  [0.96, 2.7], [0.962, 5.97], [0.964, 2.15], [0.966, 5.06], [0.968, 1.9], [0.971, 4.6], [0.973, 6.91], [0.975, 3.2], [0.977, 4.0], [0.979, 1.69],
  [0.98, 6.6], [0.983, 3.73], [0.985, 5.5], [0.988, 3.6], [0.988, 3.47], [0.99, 2.6], [0.992, 6.32], [0.992, 0.9], [0.995, 4.5], [0.997, 3.0],
  [0.999, 6.83], [0.999, 3.49], [1.0, 1.95], [0.996, 5.2],
];

const X_TICKS = [0, 0.25, 0.5, 0.75, 1];
const X_DOMAIN = [-0.0102, 1.0102];
const DNA_Y_TICKS = [0, 2.5, 5, 7.5];
const DNA_Y_DOMAIN = [-0.45, 9.8];
const CYC_Y_TICKS = [0, 2, 4, 6];
const CYC_Y_DOMAIN = [-0.32, 7.52];

const FONT = "'Liberation Sans', Arial, 'Noto Sans CJK JP', sans-serif";
const BAND = "#8366b6";
const INK = "#222";
const MUTED = "#666";

function toLine(xs: number[], mean: number[], lo: number[], hi: number[]) {
  return xs.map((x, i) => ({ x, mean: mean[i], band: [lo[i], hi[i]] }));
}
function toCells(cells: [number, number][]) {
  return cells.map(([x, y]) => ({ x, y }));
}

const dnaLine = toLine(dnaX, dnaMean, dnaLow, dnaHigh);
const cycLine = toLine(cycX, cycMean, cycLow, cycHigh);

const cellDot = (p: any) => (
  <circle cx={p.cx} cy={p.cy} r={4.1} fill="#ededed" stroke="#a6a6a6" strokeWidth={1.6} />
);

const tickStyle = { fill: INK, fontSize: 24, fontFamily: FONT, letterSpacing: 1.5 };

interface PanelProps {
  line: any[];
  cells: { x: number; y: number }[];
  yDomain: number[];
  yTicks: number[];
  yDigits: number;
  height: number;
  margin: { top: number; right: number; bottom: number; left: number };
}

// two stacked charts with the same geometry: cells + grid underneath,
// interval band, mean line, axes and frame on top
function Panel({ line, cells, yDomain, yTicks, yDigits, height, margin }: PanelProps) {
  const axes = (show: boolean) => [
    <XAxis
      key="x"
      type="number"
      dataKey="x"
      domain={X_DOMAIN}
      ticks={X_TICKS}
      allowDataOverflow
      height={50}
      tickSize={8}
      tickMargin={15}
      axisLine={false}
      tickLine={show ? { stroke: INK, strokeWidth: 2 } : false}
      tick={show ? tickStyle : false}
      tickFormatter={(v: number) => v.toFixed(2)}
    />,
    <YAxis
      key="y"
      type="number"
      domain={yDomain}
      ticks={yTicks}
      allowDataOverflow
      width={60}
      tickSize={8}
      tickMargin={12}
      axisLine={false}
      tickLine={show ? { stroke: INK, strokeWidth: 2 } : false}
      tick={show ? tickStyle : false}
      tickFormatter={(v: number) => v.toFixed(yDigits)}
    />,
  ];
  return (
    <div style={{ position: "relative", width: 1167, height }}>
      <div style={{ position: "absolute", left: 0, top: 0 }}>
        <ComposedChart width={1167} height={height} data={line} margin={margin}>
          <CartesianGrid stroke="#cbcbcb" strokeWidth={2} strokeDasharray="11 5" />
          {axes(false)}
          <Scatter data={cells} dataKey="y" shape={cellDot} isAnimationActive={false} />
        </ComposedChart>
      </div>
      <div style={{ position: "absolute", left: 0, top: 0 }}>
        <ComposedChart width={1167} height={height} data={line} margin={margin}>
          {axes(true)}
          <Area dataKey="band" type="linear" stroke="none" fill={BAND} fillOpacity={1} isAnimationActive={false} />
          <Line dataKey="mean" type="linear" stroke="#333" strokeWidth={2.8} dot={false} isAnimationActive={false} />
          <ReferenceArea
            x1={X_DOMAIN[0]}
            x2={X_DOMAIN[1]}
            y1={yDomain[0]}
            y2={yDomain[1]}
            fill="none"
            stroke={INK}
            strokeWidth={2}
            ifOverflow="visible"
          />
        </ComposedChart>
      </div>
    </div>
  );
}

export default function App() {
  return (
    <div style={{ position: "absolute", left: 0, top: 0, width: 1167, height: 874, background: "#fff", fontFamily: FONT }}>
      <div style={{ position: "absolute", left: 0, top: 0 }}>
        <Panel
          line={dnaLine}
          cells={toCells(dnaCells)}
          yDomain={DNA_Y_DOMAIN}
          yTicks={DNA_Y_TICKS}
          yDigits={1}
          height={420}
          margin={{ top: 63, right: 250, bottom: 4, left: 77 }}
        />
      </div>
      <div style={{ position: "absolute", left: 0, top: 420 }}>
        <Panel
          line={cycLine}
          cells={toCells(cycCells)}
          yDomain={CYC_Y_DOMAIN}
          yTicks={CYC_Y_TICKS}
          yDigits={0}
          height={454}
          margin={{ top: 59, right: 250, bottom: 40, left: 79 }}
        />
      </div>
      <svg
        width={1167}
        height={874}
        style={{ position: "absolute", left: 0, top: 0, pointerEvents: "none" }}
        fontFamily={FONT}
      >
        <text x={139} y={39} fontSize={34} fill={MUTED} letterSpacing={2.1}>DNA replication</text>
        <text x={139} y={458} fontSize={34} fill={MUTED} letterSpacing={2.1}>Mitotic cell cycle</text>

        <line x1={59} y1={65} x2={59} y2={786} stroke="#777" strokeWidth={2} />
        <text transform="translate(33,416) rotate(-90)" textAnchor="middle" fontSize={30} fill="#333" letterSpacing={0.4}>
          GO term enrichment score
        </text>
        <text x={521} y={867} textAnchor="middle" fontSize={30} fill="#333">擬時刻</text>

        <g stroke={MUTED} strokeWidth={3.4} fill="none">
          <line x1={699} y1={51} x2={836} y2={51} />
          <polyline points="761,44 772,26 968,26" />
          <line x1={858} y1={469} x2={917} y2={469} />
          <polyline points="888,462 898,444 968,444" />
        </g>
        <g fill={MUTED} fontSize={34}>
          <text x={989} y={41}>S期</text>
          <text x={988} y={77} letterSpacing={2.3}>0.73-0.89</text>
          <text x={988} y={457}>M期</text>
          <text x={988} y={497} letterSpacing={2.3}>0.95-1.00</text>
        </g>
      </svg>
    </div>
  );
}
